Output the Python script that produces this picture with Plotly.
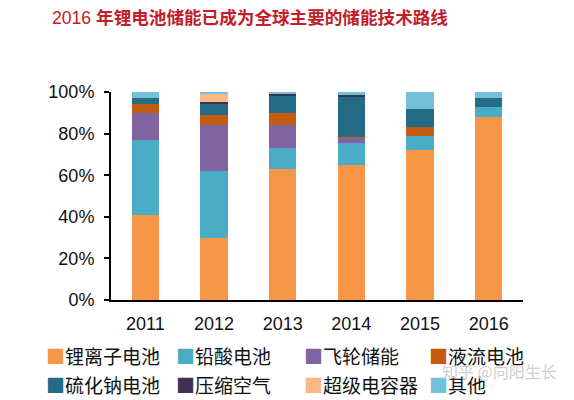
import plotly.graph_objects as go

years = ["2011", "2012", "2013", "2014", "2015", "2016"]
series_names = ["锂离子电池", "铅酸电池", "飞轮储能", "液流电池",
                "硫化钠电池", "压缩空气", "超级电容器", "其他"]
li_ion = [41, 30, 63, 65, 72, 88]
lead_acid = [36, 32, 10, 10.5, 7, 5]
flywheel = [13, 22, 11, 2.5, 0, 0]
flow = [4, 5, 6, 0.5, 4, 0]
nas = [3, 5.5, 8.5, 19.5, 9, 4]
compressed = [0, 0.5, 0.8, 0.5, 0, 0]
supercap = [0, 4.5, 0, 0, 0, 0]
other = [3, 0.5, 0.7, 1.5, 8, 3]
series_values = [li_ion, lead_acid, flywheel, flow, nas, compressed, supercap, other]
y_ticks = [0, 20, 40, 60, 80, 100]
y_tick_labels = ["0%", "20%", "40%", "60%", "80%", "100%"]
colors = ["#F79646", "#4BACC6", "#8064A2", "#C55A11",
          "#246B85", "#403152", "#F9B886", "#74BFDA"]

FONT = "Arial, 'Liberation Sans', 'Noto Sans CJK SC', sans-serif"
CJK = "'Noto Sans CJK SC', Arial, sans-serif"

fig = go.Figure()
for name, vals, col in zip(series_names, series_values, colors):
    fig.add_trace(go.Bar(x=years, y=vals, name=name, marker_color=col,
                         marker_line_width=0, showlegend=False))

fig.update_layout(
    barmode="stack",
    bargap=0.6,
    width=574, height=400,
    margin=dict(l=111, r=51, t=92, b=100),
    plot_bgcolor="white", paper_bgcolor="white",
    font=dict(family=FONT, size=18, color="#111"),
    xaxis=dict(showline=True, linecolor="black", linewidth=2, ticks="",
               ticklabelstandoff=6,
               tickfont=dict(family=FONT, size=18, color="#111"), showgrid=False),
    yaxis=dict(range=[0, 100], showline=True, linecolor="black", linewidth=2,
               ticks="outside", ticklen=5, tickwidth=1.5, tickcolor="black",
               ticklabelstandoff=6,
               tickmode="array", tickvals=y_ticks, ticktext=y_tick_labels,
               tickfont=dict(family=FONT, size=18, color="#111"),
               showgrid=False, zeroline=False),
)

# Title
fig.add_annotation(
    text="<span style=\"font-family:Arial, 'Liberation Sans'\">2016 </span>"
         "<b>年锂电池储能已成为全球主要的储能技术路线</b>",
    xref="paper", yref="paper", x=-0.148, y=1.0, yshift=76, xanchor="left", yanchor="middle",
    showarrow=False, font=dict(family=CJK, size=17.6, color="#C0202A"))

# Legend as text (2 rows x 4 columns)
col_px = [44, 174, 302, 427]
row_px = [355, 384]
plot_left, plot_w = 111, 574 - 111 - 51
plot_top, plot_h = 92, 400 - 92 - 100
for i, (name, col) in enumerate(zip(series_names, colors)):
    r, c = divmod(i, 4)
    xp = (col_px[c] - plot_left) / plot_w
    yp = 1 - (row_px[r] - plot_top) / plot_h
    fig.add_annotation(
        text=f"<span style='color:{col}'>■</span>{name}",
        xref="paper", yref="paper", x=xp, y=yp, xanchor="left", yanchor="middle",
        showarrow=False, font=dict(family=CJK, size=19, color="#111"))

# Watermark
fig.add_annotation(
    text="知乎 @向阳生长", xref="paper", yref="paper",
    x=(559 - plot_left) / plot_w, y=1 - (371 - plot_top) / plot_h,
    xanchor="right", yanchor="middle", showarrow=False,
    font=dict(family=CJK, size=16, color="#CFCFCF"))

fig.write_html("out.html")
